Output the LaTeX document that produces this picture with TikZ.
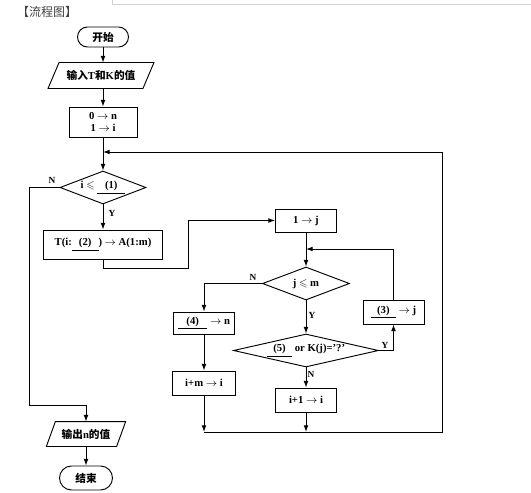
\documentclass[tikz,border=0pt]{standalone}
\usepackage{fontspec}
\usepackage{amssymb}
\setmainfont{Liberation Serif}
\newfontfamily\cjk{Noto Sans CJK SC}
\usetikzlibrary{shapes.geometric,arrows.meta,calc}
\begin{document}
\begin{tikzpicture}[x=0.75pt,y=-0.75pt,
  line width=0.7pt,
  every node/.style={font=\bfseries\fontsize{8}{9.5}\selectfont},
  box/.style={draw, rectangle, inner sep=1pt, align=center},
  term/.style={draw, rectangle, inner sep=1pt},
  io/.style={rectangle, inner sep=0pt},
  dia/.style={draw, diamond, inner sep=0pt},
  lbl/.style={font=\bfseries\fontsize{7}{8}\selectfont, inner sep=0pt},
  arr/.style={-{Latex[length=5pt,width=3.6pt]}}]
\useasboundingbox (0,0) rectangle (531,492);
\draw[black!18, line width=0.6pt] (112,0) -- (112,4) -- (531,4);
\node[font=\fontsize{9}{10}\selectfont\cjk, text=black!75] (title) at (47,12) {【流程图】};

% nodes
\node[term, rounded corners=7.5pt, minimum width=38.25pt, minimum height=15pt] (start) at (103,37) {\cjk 开始};
\node[io, minimum width=70.5pt, minimum height=18.75pt] (in) at (101,75.5) {{\cjk 输入}T{\cjk 和}K{\cjk 的值}};
\draw ($(in.north west)+(5.5,0)$) -- ($(in.north east)+(5.5,0)$) -- ($(in.south east)+(-5.5,0)$) -- ($(in.south west)+(-5.5,0)$) -- cycle;
\node[box, minimum width=51pt, minimum height=22.5pt] (init) at (103,122) {0 $\rightarrow$ n\\[-1pt]1 $\rightarrow$ i};
\node[dia, aspect=2.6, minimum width=64.5pt, minimum height=24.75pt] (d1) at (103,187.5) {i $\leqslant$ \underline{\makebox[21pt]{(1)}}};
\node[box, minimum width=89.25pt, minimum height=21.75pt] (T) at (103,244.5) {T(i:\underline{\makebox[20pt]{(2)}}) $\rightarrow$ A(1:m)};
\node[box, minimum width=45.75pt, minimum height=17.25pt] (onej) at (306,220.5) {1 $\rightarrow$ j};
\node[dia, aspect=2.6, minimum width=65.25pt, minimum height=24.75pt] (d2) at (306,283.5) {j $\leqslant$ m};
\node[box, minimum width=45.75pt, minimum height=16.5pt] (four) at (204,323) {\underline{\makebox[22pt]{(4)}} $\rightarrow$ n};
\node[box, minimum width=45.75pt, minimum height=18pt] (three) at (393.5,312) {\underline{\makebox[19pt]{(3)}} $\rightarrow$ j};
\node[dia, aspect=4.4, minimum width=108.75pt, minimum height=24.75pt] (d3) at (306,350.5) {\underline{\makebox[19pt]{(5)}} or K(j)='?'};
\node[box, minimum width=47.25pt, minimum height=18pt] (im) at (204,383) {i+m $\rightarrow$ i};
\node[box, minimum width=45.75pt, minimum height=18pt] (ip) at (306,400) {i+1 $\rightarrow$ i};
\node[io, minimum width=52pt, minimum height=18pt] (out) at (86,434) {{\cjk 输出}n{\cjk 的值}};
\draw ($(out.north west)+(4.5,0)$) -- ($(out.north east)+(4.5,0)$) -- ($(out.south east)+(-4.5,0)$) -- ($(out.south west)+(-4.5,0)$) -- cycle;
\node[term, rounded corners=9pt, minimum width=39.75pt, minimum height=18pt] (end) at (86,478) {\cjk 结束};

% coordinates
\coordinate (jn) at (103,152);
\coordinate (c1) at (29,405);
\coordinate (c2) at (188,268);
\coordinate (c3) at (306,249);
\coordinate (b1) at (204,432);
\coordinate (b2) at (306,432);
\coordinate (b3) at (442,432);
\coordinate (b4) at (442,152);

% connectors
\draw[arr] (start) -- (start.south |- in.north);
\draw[arr] (start.south |- in.south) -- (init);
\draw[arr] (init) -- (d1);
\draw[arr] (d1) -- (T);
\draw[arr] (d1.west) -| (c1) -| (out.north);
\draw[arr] (T.south) |- (c2) |- (onej.west);
\draw[arr] (onej) -- (d2);
\draw[arr] (three.north) |- (c3);
\draw[arr] (d2.west) -| (four.north);
\draw[arr] (d2) -- (d3);
\draw[arr] (four) -- (im);
\draw[arr] (d3.east) -| (three.south);
\draw[arr] (d3) -- (ip);
\draw[arr] (im.south) -- (b1);
\draw[arr] (ip.south) -- (b2);
\draw[arr] (b1) -- (b3) -- (b4) -- (jn);
\draw[arr] (out) -- (end);

% labels
\node[lbl] (n1) at (52,180) {N};
\node[lbl] (y1) at (112,213) {Y};
\node[lbl] (n2) at (253,277) {N};
\node[lbl] (y2) at (312,315) {Y};
\node[lbl] (y3) at (385,345) {Y};
\node[lbl] (n3) at (311,374) {N};
\end{tikzpicture}
\end{document}
